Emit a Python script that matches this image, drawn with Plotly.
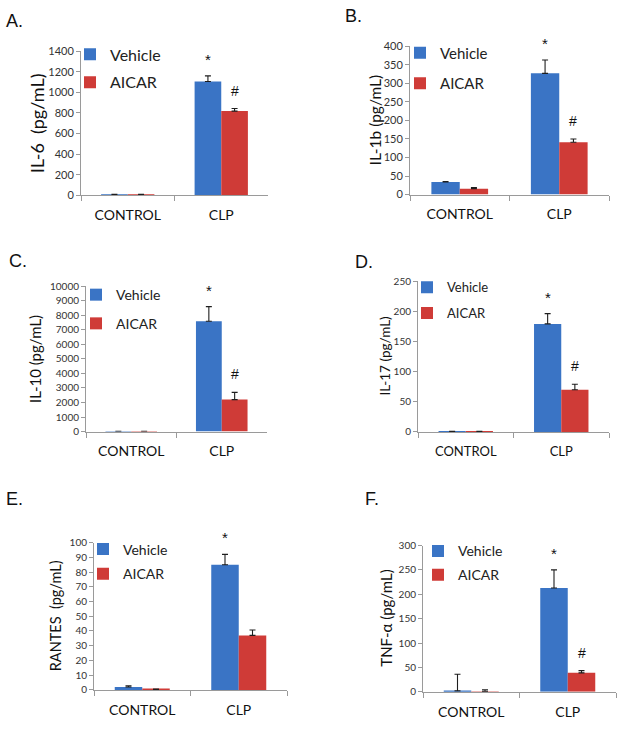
import plotly.graph_objects as go

W, H = 624, 729

categories = ["CONTROL", "CLP"]

il6_vehicle = [6, 1105]
il6_vehicle_err = [3, 55]
il6_aicar = [6, 818]
il6_aicar_err = [3, 25]

il1b_vehicle = [34, 327]
il1b_vehicle_err = [1.5, 36]
il1b_aicar = [16, 141]
il1b_aicar_err = [3, 9]

il10_vehicle = [15, 7590]
il10_vehicle_err = [10, 1010]
il10_aicar = [15, 2200]
il10_aicar_err = [10, 500]

il17_vehicle = [0.5, 179]
il17_vehicle_err = [0.5, 17]
il17_aicar = [0.5, 70]
il17_aicar_err = [0.5, 9]

rantes_vehicle = [2, 85]
rantes_vehicle_err = [0.8, 7]
rantes_aicar = [0.3, 37]
rantes_aicar_err = [0.3, 3.7]

tnf_vehicle = [2, 213]
tnf_vehicle_err = [34, 37]
tnf_aicar = [0.5, 39]
tnf_aicar_err = [3.5, 4.5]

BLUE = "#3a74c5"
RED = "#cf3b37"
FONT = "Lato"

panels = [
    dict(letter="A.", ytitle="IL-6&nbsp; (pg/mL)", v=il6_vehicle, ve=il6_vehicle_err, a=il6_aicar, ae=il6_aicar_err,
         ymax=1400, dtick=200, hash=True, box=(81, 268, 45, 191.7), lx=4, ly=14, tx=37, tsize=18,
         legx=70, legy=31, legfs=16, gap=4, tickfs=11, catfs=14),
    dict(letter="B.", ytitle="IL-1b (pg/mL)", v=il1b_vehicle, ve=il1b_vehicle_err, a=il1b_aicar, ae=il1b_aicar_err,
         ymax=400, dtick=50, hash=True, box=(410, 609, 40, 191), lx=343, ly=9, tx=375, tsize=15.5,
         legx=400, legy=30, legfs=15, gap=8, tickfs=11, catfs=14),
    dict(letter="C.", ytitle="IL-10 (pg/mL)", v=il10_vehicle, ve=il10_vehicle_err, a=il10_aicar, ae=il10_aicar_err,
         ymax=10000, dtick=1000, hash=True, box=(86, 267, 284.3, 432.3), lx=7, ly=259, tx=35, tsize=15,
         legx=76, legy=277, legfs=14, gap=7.5, tickfs=10, catfs=14),
    dict(letter="D.", ytitle="IL-17 (pg/mL)", v=il17_vehicle, ve=il17_vehicle_err, a=il17_aicar, ae=il17_aicar_err,
         ymax=250, dtick=50, hash=True, box=(418, 609, 279, 432.7), lx=353, ly=259.5, tx=385, tsize=13.5,
         legx=407, legy=270, legfs=13, gap=6, tickfs=10, catfs=13),
    dict(letter="E.", ytitle="RANTES&nbsp; (pg/mL)", v=rantes_vehicle, ve=rantes_vehicle_err, a=rantes_aicar, ae=rantes_aicar_err,
         ymax=100, dtick=10, hash=False, box=(94, 287, 545.3, 695.3), lx=4, ly=501, tx=55, tsize=14.5,
         legx=83, legy=536, legfs=14, gap=3.5, tickfs=10, catfs=14),
    dict(letter="F.", ytitle="TNF-α (pg/mL)", v=tnf_vehicle, ve=tnf_vehicle_err, a=tnf_aicar, ae=tnf_aicar_err,
         ymax=300, dtick=50, hash=True, box=(423, 616, 548.3, 697.3), lx=363, ly=501, tx=386, tsize=15,
         legx=418, legy=538, legfs=14, gap=2.5, tickfs=10, catfs=14),
]

fig = go.Figure()
layout = dict(
    width=W, height=H, margin=dict(l=0, r=0, t=0, b=0),
    paper_bgcolor="white", plot_bgcolor="white",
    barmode="group", bargap=0.43, bargroupgap=0,
    font=dict(family=FONT, color="#222"),
    showlegend=True,
)
annotations = []

BAR_FRAC = (1 - 0.43) / 2

for i, p in enumerate(panels, start=1):
    sfx = "" if i == 1 else str(i)
    xa, ya = "x" + sfx, "y" + sfx
    leg = "legend" if i == 1 else "legend" + str(i)
    x0, x1, yt, yb = p["box"]
    for name, vals, errs, col in (("Vehicle", p["v"], p["ve"], BLUE), ("AICAR", p["a"], p["ae"], RED)):
        fig.add_trace(go.Bar(
            x=categories, y=vals, name=name, marker=dict(color=col, line=dict(width=0)),
            error_y=dict(type="data", array=errs, arrayminus=[0] * len(errs), symmetric=False,
                         color="#1e1e1e", thickness=1.1, width=3),
            xaxis=xa, yaxis=ya, legend=leg, legendgroup=f"{i}{name}",
        ))
    layout["xaxis" + sfx] = dict(
        domain=[x0 / W, x1 / W], anchor=ya, type="category", range=[-0.5, 1.5],
        tickson="boundaries", ticks="outside", ticklen=5, tickcolor="#9a9a9a",
        showline=True, linecolor="#9a9a9a", linewidth=1, showgrid=False,
        tickfont=dict(size=p["catfs"], color="#111"), ticklabelstandoff=7,
    )
    layout["yaxis" + sfx] = dict(
        domain=[1 - yb / H, 1 - yt / H], anchor=xa, range=[0, p["ymax"]], dtick=p["dtick"],
        tickformat="d",
        ticks="outside", ticklen=4, tickcolor="#9a9a9a", showline=True, linecolor="#9a9a9a",
        linewidth=1, showgrid=False, zeroline=False,
        tickfont=dict(size=p["tickfs"], color="#333"),
    )
    layout[leg] = dict(
        x=p["legx"] / W, y=1 - p["legy"] / H, xanchor="left", yanchor="top",
        bgcolor="rgba(0,0,0,0)", borderwidth=0, tracegroupgap=p["gap"],
        font=dict(size=p["legfs"], color="#222", family=FONT), itemclick=False,
    )
    annotations.append(dict(text=p["letter"], xref="paper", yref="paper", x=p["lx"] / W, y=1 - p["ly"] / H,
                            xanchor="left", yanchor="middle", showarrow=False,
                            font=dict(size=18, family="Liberation Sans", color="#111")))
    annotations.append(dict(text=p["ytitle"], xref="paper", yref="paper", x=p["tx"] / W,
                            y=1 - (yt + yb) / 2 / H, textangle=-90, xanchor="center", yanchor="middle",
                            showarrow=False, font=dict(size=p["tsize"], family=FONT, color="#111")))
    annotations.append(dict(text="*", xref=xa, yref=ya, x=1 - BAR_FRAC / 2, y=p["v"][1] + p["ve"][1],
                            yanchor="bottom", yshift=6, showarrow=False,
                            font=dict(size=15, family="Liberation Sans", color="#111")))
    if p["hash"]:
        annotations.append(dict(text="#", xref=xa, yref=ya, x=1 + BAR_FRAC / 2, y=p["a"][1] + p["ae"][1],
                                yanchor="bottom", yshift=8, showarrow=False,
                                font=dict(size=14, family="Liberation Sans", color="#111")))

layout["annotations"] = annotations
fig.update_layout(**layout)
fig.write_html("out.html", post_script="document.body.style.margin='0';",
               config={"displayModeBar": False})
